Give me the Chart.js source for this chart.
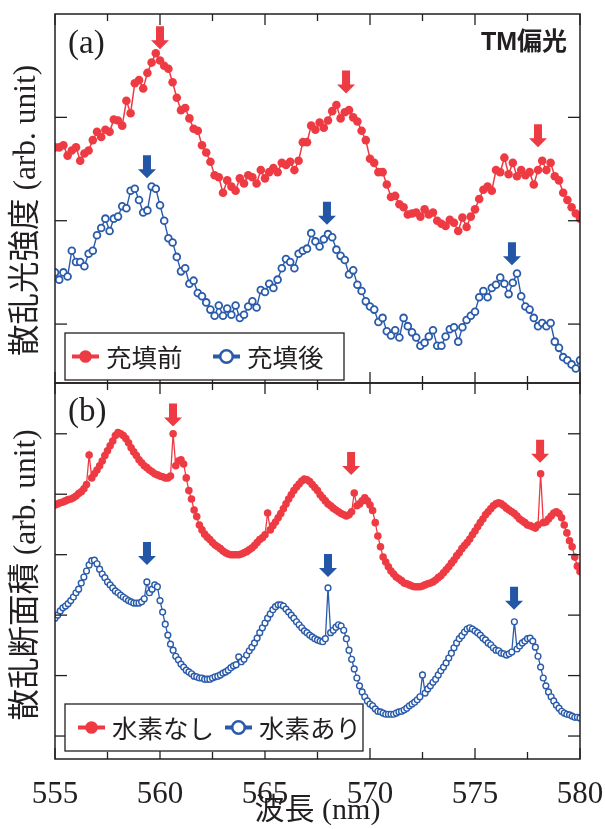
<!DOCTYPE html>
<html><head><meta charset="utf-8">
<script src="https://cdn.jsdelivr.net/npm/chart.js@4.4.0/dist/chart.umd.min.js"></script>
<style>
html,body{margin:0;padding:0;background:#fff;}
#wrap{position:relative;width:605px;height:829px;overflow:hidden;background:#fff;}
.box{position:absolute;left:0;width:605px;}
#boxA{top:0;height:392px;}
#boxB{top:375px;height:454px;}
</style></head><body>
<div id="wrap">
<div class="box" id="boxA"><canvas id="cA"></canvas></div>
<div class="box" id="boxB"><canvas id="cB"></canvas></div>
</div>
<script>
// ---------- data ----------
const wavelengthA = [
555,555.2,555.4,555.6,555.8,556,556.2,556.4,556.6,556.8,557,557.2,557.4,557.6,557.8,
558,558.2,558.4,558.6,558.8,559,559.2,559.4,559.6,559.8,560,560.2,560.4,560.6,560.8,
561,561.2,561.4,561.6,561.8,562,562.2,562.4,562.6,562.8,563,563.2,563.4,563.6,563.8,
564,564.2,564.4,564.6,564.8,565,565.2,565.4,565.6,565.8,566,566.2,566.4,566.6,566.8,
567,567.2,567.4,567.6,567.8,568,568.2,568.4,568.6,568.8,569,569.2,569.4,569.6,569.8,
570,570.2,570.4,570.6,570.8,571,571.2,571.4,571.6,571.8,572,572.2,572.4,572.6,572.8,
573,573.2,573.4,573.6,573.8,574,574.2,574.4,574.6,574.8,575,575.2,575.4,575.6,575.8,
576,576.2,576.4,576.6,576.8,577,577.2,577.4,577.6,577.8,578,578.2,578.4,578.6,578.8,
579,579.2,579.4,579.6,579.8,580];
// (a) 充填前
const beforeFill = [
1.71,1.71,1.73,1.63,1.68,1.71,1.58,1.65,1.68,1.78,
1.86,1.81,1.88,1.86,1.98,1.97,1.92,2.16,2.04,2.33,
2.36,2.28,2.43,2.53,2.62,2.55,2.50,2.47,2.34,2.19,
2.07,2.09,1.99,1.89,1.87,1.73,1.66,1.57,1.44,1.42,
1.27,1.39,1.33,1.29,1.41,1.36,1.44,1.42,1.36,1.49,
1.41,1.47,1.51,1.47,1.56,1.54,1.57,1.49,1.58,1.76,
1.76,1.92,1.88,1.95,1.90,1.97,2.06,2.12,1.99,2.05,
2.07,2.00,1.96,1.87,1.78,1.60,1.56,1.47,1.47,1.35,
1.23,1.24,1.16,1.13,1.06,1.07,1.08,1.04,1.11,1.06,
1.08,1.00,0.97,0.95,1.01,0.98,0.90,1.03,0.94,1.04,
1.11,1.21,1.30,1.33,1.29,1.49,1.47,1.61,1.45,1.56,
1.43,1.49,1.44,1.47,1.35,1.49,1.58,1.49,1.56,1.43,
1.39,1.27,1.20,1.13,1.07,1.02];
// (a) 充填後
const afterFill = [
0.50,0.43,0.50,0.46,0.71,0.60,0.60,0.56,0.68,0.71,
0.86,0.93,1.02,0.90,1.02,1.04,1.14,1.12,1.29,1.31,
1.20,1.08,1.10,1.33,1.31,1.15,1.00,0.83,0.79,0.65,
0.51,0.54,0.39,0.42,0.30,0.27,0.21,0.14,0.08,0.18,
0.08,0.15,0.09,0.18,0.06,0.09,0.17,0.22,0.16,0.33,
0.31,0.39,0.35,0.43,0.54,0.63,0.60,0.54,0.68,0.71,
0.73,0.88,0.80,0.75,0.82,0.87,0.84,0.72,0.66,0.62,
0.48,0.52,0.38,0.32,0.22,0.17,0.14,0.02,0.06,-0.07,
-0.11,-0.06,-0.13,0.06,-0.02,-0.08,-0.13,-0.21,-0.18,-0.12,
-0.06,-0.21,-0.21,-0.12,-0.05,-0.03,-0.17,-0.03,0.04,0.08,
0.12,0.26,0.32,0.26,0.35,0.38,0.45,0.39,0.29,0.40,
0.49,0.27,0.17,0.14,0.06,-0.02,0.01,-0.02,0.01,-0.17,
-0.23,-0.32,-0.35,-0.39,-0.43,-0.35];

const wavelengthB = [
555,555.125,555.25,555.375,555.5,555.625,555.75,555.875,
556,556.125,556.25,556.375,556.5,556.625,556.75,556.875,
557,557.125,557.25,557.375,557.5,557.625,557.75,557.875,
558,558.125,558.25,558.375,558.5,558.625,558.75,558.875,
559,559.125,559.25,559.375,559.5,559.625,559.75,559.875,
560,560.125,560.25,560.375,560.5,560.625,560.75,560.875,
561,561.125,561.25,561.375,561.5,561.625,561.75,561.875,
562,562.125,562.25,562.375,562.5,562.625,562.75,562.875,
563,563.125,563.25,563.375,563.5,563.625,563.75,563.875,
564,564.125,564.25,564.375,564.5,564.625,564.75,564.875,
565,565.125,565.25,565.375,565.5,565.625,565.75,565.875,
566,566.125,566.25,566.375,566.5,566.625,566.75,566.875,
567,567.125,567.25,567.375,567.5,567.625,567.75,567.875,
568,568.125,568.25,568.375,568.5,568.625,568.75,568.875,
569,569.125,569.25,569.375,569.5,569.625,569.75,569.875,
570,570.125,570.25,570.375,570.5,570.625,570.75,570.875,
571,571.125,571.25,571.375,571.5,571.625,571.75,571.875,
572,572.125,572.25,572.375,572.5,572.625,572.75,572.875,
573,573.125,573.25,573.375,573.5,573.625,573.75,573.875,
574,574.125,574.25,574.375,574.5,574.625,574.75,574.875,
575,575.125,575.25,575.375,575.5,575.625,575.75,575.875,
576,576.125,576.25,576.375,576.5,576.625,576.75,576.875,
577,577.125,577.25,577.375,577.5,577.625,577.75,577.875,
578,578.125,578.25,578.375,578.5,578.625,578.75,578.875,
579,579.125,579.25,579.375,579.5,579.625,579.75,579.875,
580];
// (b) 水素なし
const noHydrogen = [
3.82,3.84,3.86,3.87,3.89,3.91,3.92,3.94,3.97,4.01,
4.04,4.09,4.16,4.65,4.27,4.34,4.40,4.47,4.55,4.64,
4.72,4.80,4.88,4.97,5.02,5.00,4.97,4.92,4.85,4.77,
4.70,4.64,4.57,4.52,4.47,4.44,4.40,4.37,4.34,4.32,
4.30,4.29,4.27,4.27,4.30,5.00,4.47,4.55,4.57,4.50,
4.27,4.06,3.92,3.74,3.63,3.49,3.41,3.34,3.29,3.25,
3.20,3.16,3.13,3.10,3.06,3.03,3.01,3.00,3.00,3.00,
3.00,3.01,3.03,3.05,3.08,3.11,3.15,3.20,3.25,3.28,
3.33,3.69,3.41,3.48,3.54,3.61,3.68,3.76,3.84,3.92,
3.99,4.06,4.12,4.17,4.22,4.25,4.24,4.21,4.16,4.11,
4.06,3.99,3.94,3.89,3.84,3.81,3.77,3.74,3.71,3.68,
3.66,3.64,3.66,3.71,4.02,3.81,3.84,3.89,3.94,3.89,
3.82,3.73,3.53,3.31,3.13,2.96,2.88,2.80,2.73,2.68,
2.63,2.60,2.57,2.53,2.52,2.50,2.48,2.47,2.47,2.47,
2.48,2.50,2.52,2.53,2.55,2.58,2.62,2.65,2.70,2.75,
2.80,2.86,2.91,2.98,3.03,3.10,3.15,3.20,3.26,3.33,
3.39,3.46,3.53,3.59,3.66,3.71,3.76,3.81,3.84,3.86,
3.84,3.81,3.77,3.74,3.71,3.68,3.64,3.59,3.56,3.53,
3.49,3.48,3.46,3.44,3.49,4.34,3.53,3.54,3.59,3.64,
3.69,3.71,3.68,3.61,3.49,3.36,3.23,3.13,2.96,2.81,
2.72];
// (b) 水素あり
const withHydrogen = [
1.95,2.00,2.07,2.12,2.15,2.19,2.24,2.30,2.37,2.43,
2.53,2.63,2.73,2.83,2.90,2.91,2.85,2.76,2.68,2.62,
2.55,2.50,2.45,2.40,2.37,2.33,2.30,2.27,2.24,2.22,
2.20,2.20,2.20,2.22,2.27,2.55,2.37,2.43,2.50,2.47,
2.24,2.05,1.85,1.67,1.52,1.42,1.32,1.26,1.19,1.14,
1.09,1.06,1.03,0.99,0.98,0.96,0.96,0.94,0.94,0.94,
0.96,0.98,0.99,1.01,1.04,1.06,1.09,1.13,1.16,1.18,
1.31,1.23,1.27,1.34,1.41,1.47,1.54,1.62,1.71,1.79,
1.87,1.95,2.02,2.09,2.14,2.17,2.17,2.15,2.10,2.05,
2.00,1.95,1.89,1.84,1.79,1.74,1.71,1.67,1.64,1.61,
1.59,1.57,1.56,1.61,2.45,1.71,1.75,1.80,1.84,1.82,
1.75,1.61,1.42,1.27,1.11,0.96,0.83,0.73,0.65,0.58,
0.53,0.50,0.45,0.41,0.40,0.38,0.36,0.36,0.36,0.36,
0.38,0.40,0.41,0.43,0.46,0.50,0.53,0.56,0.60,0.65,
1.01,0.71,0.78,0.83,0.89,0.94,1.01,1.08,1.14,1.21,
1.29,1.37,1.46,1.54,1.61,1.66,1.72,1.77,1.79,1.77,
1.74,1.71,1.67,1.62,1.59,1.54,1.51,1.46,1.42,1.41,
1.37,1.36,1.34,1.36,1.39,1.89,1.44,1.49,1.54,1.57,
1.61,1.62,1.57,1.47,1.32,1.14,0.96,0.83,0.73,0.65,
0.58,0.51,0.46,0.41,0.38,0.36,0.35,0.33,0.31,0.31,
0.30];

// resonance markers (wavelength, intensity at arrow tip)
const arrowsBeforeFill = [[560.0,2.66],[568.86,2.23],[578.0,1.71]];
const arrowsAfterFill  = [[559.38,1.41],[567.95,0.96],[576.76,0.57]];
const arrowsNoH        = [[560.62,5.12],[569.1,4.32],[578.1,4.52]];
const arrowsWithH      = [[559.38,2.83],[568.0,2.63],[576.86,2.09]];

const xTickValues = [555,560,565,570,575,580];
const xTickLabels = ['555','560','565','570','575','580'];
const xMinorTicks = [557.5,562.5,567.5,572.5,577.5];
const yTicksA = [0,1,2];
const yTicksB = [0,1,2,3,4,5];

// ---------- styles ----------
const RED = '#EE3B43';
const BLUE = '#2A5BAA';
const ARROW_BLUE = '#2356A6';
const TXT = '#231F20';
const SERIF_CJK = "'Liberation Serif','Noto Sans CJK JP'";
const CJK = "'Noto Sans CJK JP'";

function toPts(xs, ys){ return xs.map((x,i)=>({x:x, y:ys[i]})); }

function drawArrow(ctx, px, py, color){
  ctx.fillStyle = color;
  ctx.beginPath();
  ctx.moveTo(px, py);
  ctx.lineTo(px-9, py-9);
  ctx.lineTo(px-4, py-9);
  ctx.lineTo(px-4, py-23);
  ctx.lineTo(px+4, py-23);
  ctx.lineTo(px+4, py-9);
  ctx.lineTo(px+9, py-9);
  ctx.closePath();
  ctx.fill();
}

function decorPlugin(cfg){
  return {
    id: 'decor',
    afterDatasetsDraw(chart){
      const ctx = chart.ctx, a = chart.chartArea, xs = chart.scales.x, ys = chart.scales.y;
      ctx.save();
      cfg.arrows.forEach(set => set.pts.forEach(p => drawArrow(ctx, xs.getPixelForValue(p[0]), ys.getPixelForValue(p[1]), set.color)));
      ctx.strokeStyle = TXT; ctx.lineWidth = 1.5; ctx.lineCap = 'butt';
      ctx.strokeRect(a.left, a.top, a.right-a.left, a.bottom-a.top);
      ctx.lineWidth = 1.3;
      const line = (x1,y1,x2,y2)=>{ctx.beginPath();ctx.moveTo(x1,y1);ctx.lineTo(x2,y2);ctx.stroke();};
      xTickValues.forEach(v=>{ const px = xs.getPixelForValue(v); line(px,a.top,px,a.top+11); line(px,a.bottom,px,a.bottom-11); });
      xMinorTicks.forEach(v=>{ const px = xs.getPixelForValue(v); line(px,a.top,px,a.top+7); line(px,a.bottom,px,a.bottom-7); });
      cfg.yTicks.forEach(v=>{ const py = ys.getPixelForValue(v); line(a.left,py,a.left+12,py); line(a.right,py,a.right-12,py); });
      ctx.fillStyle = TXT;
      ctx.font = "33px 'Liberation Serif'";
      ctx.textBaseline = 'alphabetic'; ctx.textAlign = 'left';
      ctx.fillText(cfg.panel, a.left+13, a.top+cfg.panelDy);
      if (cfg.note){
        ctx.font = "bold 25px 'Liberation Sans','Noto Sans CJK JP'";
        ctx.textAlign = 'right';
        ctx.fillText(cfg.note, a.right-13, a.top+36);
      }
      const L = cfg.legend;
      const bx = a.left+10, by = a.bottom-L.fromBottom, bw = L.w, bh = 47;
      ctx.fillStyle = '#fff'; ctx.fillRect(bx,by,bw,bh);
      ctx.strokeStyle = TXT; ctx.lineWidth = 1.3; ctx.strokeRect(bx,by,bw,bh);
      const cy = by + bh/2;
      L.items.forEach(it=>{
        const x0 = bx + it.dx;
        ctx.strokeStyle = it.color; ctx.lineWidth = 4;
        line(x0, cy, x0+27, cy);
        ctx.beginPath(); ctx.arc(x0+13.5, cy, 6.3, 0, Math.PI*2);
        if (it.open){ ctx.fillStyle='#fff'; ctx.fill(); ctx.lineWidth=2.6; ctx.strokeStyle=it.color; ctx.stroke(); }
        else { ctx.fillStyle=it.color; ctx.fill(); }
        ctx.fillStyle = TXT; ctx.font = "25.5px "+CJK; ctx.textAlign='left'; ctx.textBaseline='middle';
        ctx.fillText(it.text, x0+34, cy+1);
      });
      ctx.restore();
    }
  };
}

function yAxis(min, max, title){
  return {
    type:'linear', position:'left', min:min, max:max,
    grid:{display:false}, border:{display:false},
    ticks:{display:false},
    afterFit(s){ s.width = 55; },
    title:{display:true, text:title, color:TXT, font:{family:SERIF_CJK, size:31.5}, padding:{top:8,bottom:0}}
  };
}

Chart.defaults.devicePixelRatio = 1;

new Chart(document.getElementById('cA'), {
  type:'scatter',
  data:{ datasets:[
    { label:'充填前', data:toPts(wavelengthA, beforeFill), showLine:true,
      borderColor:RED, backgroundColor:RED, borderWidth:1.5,
      pointRadius:4.3, pointBorderWidth:0, pointBackgroundColor:RED },
    { label:'充填後', data:toPts(wavelengthA, afterFill), showLine:true,
      borderColor:BLUE, backgroundColor:'#fff', borderWidth:1.4,
      pointRadius:3.4, pointBorderWidth:1.8, pointBorderColor:BLUE, pointBackgroundColor:'#fff' }
  ]},
  options:{
    animation:false, responsive:true, maintainAspectRatio:false,
    layout:{padding:{left:0,right:25,top:14,bottom:9}},
    plugins:{legend:{display:false}, tooltip:{enabled:false}},
    scales:{
      x:{type:'linear', min:555, max:580, display:false},
      y:yAxis(-0.57, 3, '散乱光強度 (arb. unit)   ')
    }
  },
  plugins:[decorPlugin({
    arrows:[{pts:arrowsBeforeFill,color:RED},{pts:arrowsAfterFill,color:ARROW_BLUE}],
    yTicks:yTicksA, panel:'(a)', panelDy:39, note:'TM偏光',
    legend:{fromBottom:50, w:279, items:[
      {dx:7, color:RED, open:false, text:'充填前'},
      {dx:148, color:BLUE, open:true, text:'充填後'}]}
  })]
});

new Chart(document.getElementById('cB'), {
  type:'scatter',
  data:{ datasets:[
    { label:'水素なし', data:toPts(wavelengthB, noHydrogen), showLine:true,
      borderColor:RED, backgroundColor:RED, borderWidth:1.3,
      pointRadius:3.8, pointBorderWidth:0, pointBackgroundColor:RED },
    { label:'水素あり', data:toPts(wavelengthB, withHydrogen), showLine:true,
      borderColor:BLUE, backgroundColor:'#fff', borderWidth:1.3,
      pointRadius:2.9, pointBorderWidth:1.4, pointBorderColor:BLUE, pointBackgroundColor:'#fff' }
  ]},
  options:{
    animation:false, responsive:true, maintainAspectRatio:false,
    layout:{padding:{left:0,right:25,top:8,bottom:0}},
    plugins:{legend:{display:false}, tooltip:{enabled:false}},
    scales:{
      x:{type:'linear', position:'bottom', min:555, max:580,
         grid:{display:false, drawTicks:true, tickLength:17}, border:{display:false},
         afterBuildTicks(s){ s.ticks = xTickValues.map(v=>({value:v})); },
         afterFit(s){ s.height = 70; },
         ticks:{autoSkip:false, maxRotation:0, padding:0, color:TXT,
                font:{family:"'Liberation Serif'", size:31},
                callback:(v)=>{ const k = xTickValues.indexOf(v); return k>=0 ? xTickLabels[k] : ''; }},
         title:{display:true, text:'波長 (nm)', color:TXT, font:{family:SERIF_CJK, size:30}, padding:{top:0,bottom:0}}
      },
      y:yAxis(-0.38, 5.84, '散乱断面積 (arb. unit) ')
    }
  },
  plugins:[decorPlugin({
    arrows:[{pts:arrowsNoH,color:RED},{pts:arrowsWithH,color:ARROW_BLUE}],
    yTicks:yTicksB, panel:'(b)', panelDy:38, note:null,
    legend:{fromBottom:55, w:298, items:[
      {dx:13, color:RED, open:false, text:'水素なし'},
      {dx:160, color:BLUE, open:true, text:'水素あり'}]}
  })]
});
</script>
</body></html>
